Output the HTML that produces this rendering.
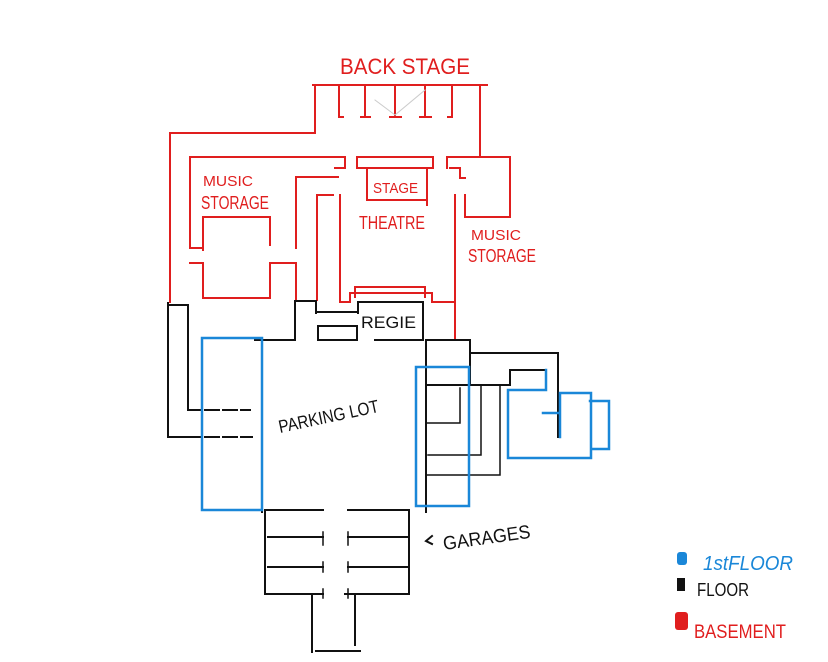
<!DOCTYPE html>
<html><head><meta charset="utf-8"><style>
html,body{margin:0;padding:0;background:#fff;}
svg{display:block}
text{font-family:"Liberation Sans",sans-serif;}
</style></head><body>
<svg width="828" height="662" viewBox="0 0 828 662" xmlns="http://www.w3.org/2000/svg">
<g fill="none" stroke="#e01e1e" stroke-width="2" stroke-linecap="square">
<path d="M313 85H487"/>
<path d="M315 85V133H170V302"/>
<path d="M339 85V117h4M365 85V117h-5h10M395 85V117h-6h12M425 85V117h-6h12M452 85V117h-4"/>
<path d="M480 85V157"/>
<path d="M190 157H345V168H335"/>
<path d="M190 157V248H203"/>
<path d="M203 250V217H270V245"/>
<path d="M190 263H203V298H270V263H295"/>
<path d="M296 263V300"/>
<path d="M296 248V177H338"/>
<path d="M317 300V195H333"/>
<path d="M340 302V195"/>
<path d="M357 157H433V168H357Z"/>
<path d="M367 168V200H425"/>
<path d="M427 168V205"/>
<path d="M355 297V287H425V297"/>
<path d="M340 302H350V293H432V302H455"/>
<path d="M447 157V168M447 157H510V217H465V195"/>
<path d="M450 168H460V178H465"/>
<path d="M455 195V340"/>
<path d="M375 100L395 115M395 115L425 90" stroke-width="1" stroke="#ccc"/>
</g>
<g fill="none" stroke="#111" stroke-width="2" stroke-linecap="square">
<path d="M168 303V437H200M168 305H188V410H200"/>
<path d="M205 410H250M205 437H252" stroke-dasharray="14 4"/>
<path d="M358 313V302H423V340H375"/>
<path d="M318 326H357V340H318Z"/>
<path d="M318 312H357"/>
<path d="M295 340V301H316V313"/>
<path d="M255 340H295"/>
<path d="M262 338V512"/>
<path d="M426 340V512M426 340H470V385"/>
<path d="M470 353H558V437"/>
<path d="M426 385H510V370H546"/>
<path d="M460 388V423H426M481 385V455H428M500 385V475H426" stroke-width="1.5"/>
<path d="M265 510V593M409 510V593"/>
<path d="M265 510H323M348 510H409"/>
<path d="M268 537H323M348 537H409M268 567H323M348 567H409M265 594H323M345 594H409"/>
<path d="M323 532V545M348 532V545M323 562V572M348 562V572M323 589V598M348 589V598" stroke-width="1.5"/>
<path d="M312 594V652M355 594V645M316 651H360"/>
<path d="M432 536l-6 5 6 3" />
</g>
<g fill="none" stroke="#1a87d8" stroke-width="2.5" stroke-linecap="square">
<path d="M202 338H262V510H202Z"/>
<path d="M416 367H469V506H416Z"/>
<path d="M508 390V458H591V393H560V437M508 390H546V370M543 413H558"/>
<path d="M590 401H609V449H592"/>
</g>
<g fill="#e01e1e">
<text x="340" y="74" font-size="22" textLength="130" lengthAdjust="spacingAndGlyphs">BACK STAGE</text>
<text x="203" y="186" font-size="15" textLength="50" lengthAdjust="spacingAndGlyphs">MUSIC</text>
<text x="201" y="209" font-size="18" textLength="68" lengthAdjust="spacingAndGlyphs">STORAGE</text>
<text x="373" y="193" font-size="15" textLength="45" lengthAdjust="spacingAndGlyphs">STAGE</text>
<text x="359" y="229" font-size="18" textLength="66" lengthAdjust="spacingAndGlyphs">THEATRE</text>
<text x="471" y="240" font-size="15" textLength="50" lengthAdjust="spacingAndGlyphs">MUSIC</text>
<text x="468" y="262" font-size="18" textLength="68" lengthAdjust="spacingAndGlyphs">STORAGE</text>
</g>
<g fill="#111">
<text x="361" y="328" font-size="17" textLength="55" lengthAdjust="spacingAndGlyphs">REGIE</text>
<text x="280" y="433" font-size="18" transform="rotate(-12 280 433)" textLength="102" lengthAdjust="spacingAndGlyphs">PARKING LOT</text>
<text x="444" y="550" font-size="19" transform="rotate(-8 444 550)" textLength="88" lengthAdjust="spacingAndGlyphs">GARAGES</text>
</g>
<rect x="677" y="552" width="10" height="13" rx="3" fill="#1a87d8"/>
<text x="703" y="570" font-size="20" fill="#1a87d8" font-style="italic" textLength="90" lengthAdjust="spacingAndGlyphs">1stFLOOR</text>
<rect x="677" y="578" width="8" height="13" fill="#111"/>
<text x="697" y="596" font-size="18" fill="#111" textLength="52" lengthAdjust="spacingAndGlyphs">FLOOR</text>
<rect x="675" y="612" width="13" height="18" rx="3" fill="#e01e1e"/>
<text x="694" y="638" font-size="19" fill="#e01e1e" textLength="92" lengthAdjust="spacingAndGlyphs">BASEMENT</text>
</svg>
</body></html>
